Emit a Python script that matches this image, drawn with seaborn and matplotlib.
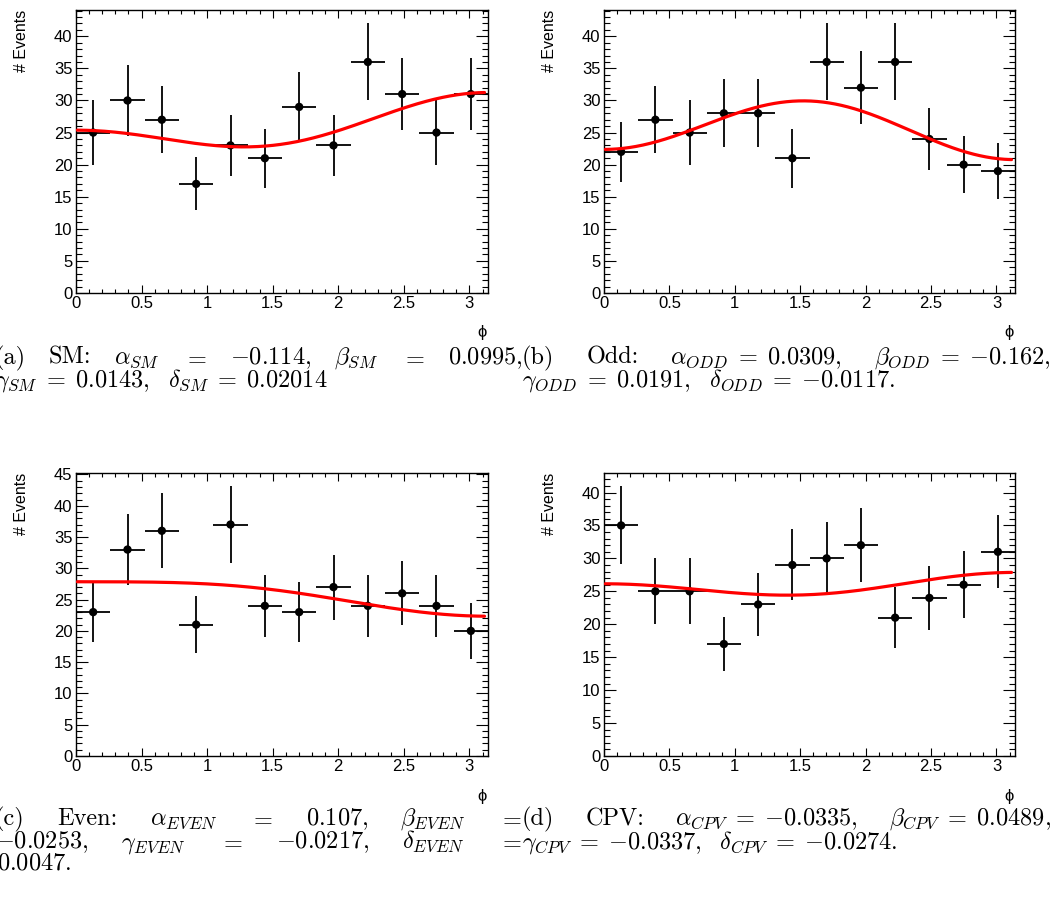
import numpy as np
import pandas as pd
import matplotlib
matplotlib.use("Agg")
import matplotlib.pyplot as plt
from matplotlib.ticker import MultipleLocator, FuncFormatter
import seaborn as sns

# ---------------- data ----------------
n_bins = 12
counts_sm = [25, 30, 27, 17, 23, 21, 29, 23, 36, 31, 25, 31]
counts_odd = [22, 27, 25, 28, 28, 21, 36, 32, 36, 24, 20, 19]
counts_even = [23, 33, 36, 21, 37, 24, 23, 27, 24, 26, 24, 20]
counts_cpv = [35, 25, 25, 17, 23, 29, 30, 32, 21, 24, 26, 31]

panel_keys = ["SM", "ODD", "EVEN", "CPV"]
alpha_vals = [-0.114, 0.0309, 0.107, -0.0335]
beta_vals = [0.0995, -0.162, -0.0253, 0.0489]
gamma_vals = [0.0143, 0.0191, -0.0217, -0.0337]
delta_vals = [0.02014, -0.0117, 0.0047, -0.0274]
fit_norm = [25.75, 25.75, 25.75, 25.75]

# ---------------- style ----------------
sns.set_theme(style="ticks")
plt.rcParams["font.family"] = ["Liberation Sans", "DejaVu Sans"]
plt.rcParams["mathtext.fontset"] = "cm"
plt.rcParams["axes.edgecolor"] = "black"
plt.rcParams["xtick.color"] = "black"
plt.rcParams["ytick.color"] = "black"
plt.rcParams["text.color"] = "black"
plt.rcParams["axes.labelcolor"] = "black"

W, H = 1053, 914
fig = plt.figure(figsize=(W / 100, H / 100), dpi=100)

# axes rectangles in pixels (left, top, right, bottom)
rects = [(76, 10, 488, 293), (604, 10, 1015, 293),
         (76, 473, 488, 756), (604, 473, 1015, 756)]
all_counts = [counts_sm, counts_odd, counts_even, counts_cpv]

edges = np.linspace(0, np.pi, n_bins + 1)
centers = 0.5 * (edges[:-1] + edges[1:])
half_w = 0.5 * (edges[1] - edges[0])

for i, (l, t, r, b) in enumerate(rects):
    ax = fig.add_axes([l / W, 1 - b / H, (r - l) / W, (b - t) / H])
    counts = np.array(all_counts[i], dtype=float)
    err = np.sqrt(counts)
    df = pd.DataFrame({"phi": centers, "n": counts})

    ax.errorbar(centers, counts, yerr=err, xerr=half_w, fmt="none",
                ecolor="black", elinewidth=1.3, capsize=0, zorder=2)
    sns.scatterplot(data=df, x="phi", y="n", ax=ax, color="black", s=36,
                    edgecolor="none", linewidth=0, zorder=3, legend=False)

    phi_c = np.linspace(0.01, 3.115, 400)
    f = fit_norm[i] * (1 + alpha_vals[i] * np.cos(phi_c) + beta_vals[i] * np.cos(2 * phi_c))
    sns.lineplot(x=phi_c, y=f, ax=ax, color="#ff0000", linewidth=2.3, zorder=4,
                 estimator=None, sort=False)

    ymax = np.max(counts + err) * 1.05
    ax.set_xlim(0, np.pi)
    ax.set_ylim(0, ymax)
    ax.xaxis.set_major_locator(MultipleLocator(0.5))
    ax.xaxis.set_minor_locator(MultipleLocator(0.1))
    ax.yaxis.set_major_locator(MultipleLocator(5))
    ax.yaxis.set_minor_locator(MultipleLocator(1))
    fmt = FuncFormatter(lambda v, p: "%g" % v)
    ax.xaxis.set_major_formatter(fmt)
    ax.yaxis.set_major_formatter(fmt)
    ax.tick_params(which="both", direction="in", top=True, right=True,
                   width=0.8, labelsize=12)
    ax.tick_params(axis="x", which="major", length=5.5, pad=2.5)
    ax.tick_params(axis="x", which="minor", length=2.9)
    ax.tick_params(axis="y", which="major", length=8.6, pad=2.5)
    ax.tick_params(axis="y", which="minor", length=4.3)
    for sp in ax.spines.values():
        sp.set_linewidth(1.0)
        sp.set_color("black")
    ax.set_xlabel("")
    ax.set_ylabel("")
    ax.text(-54 / (r - l), 1.0, "# Events", rotation=90, ha="right",
            va="center", rotation_mode="anchor", transform=ax.transAxes, fontsize=11.5)
    ax.text(0.997, -40 / (b - t), "ϕ", ha="right", va="center",
            transform=ax.transAxes, fontsize=12)

# ---------------- captions ----------------
FS = 17.5
renderer = fig.canvas.get_renderer()


def place_line(tokens, x0, x1, y_base, justify=True):
    texts = []
    for tok in tokens:
        if tok.startswith("$"):
            tx = fig.text(0, 1 - y_base / H, tok, fontsize=FS, va="baseline", ha="left")
        else:
            tx = fig.text(0, 1 - y_base / H, tok, fontsize=FS, va="baseline", ha="left",
                          fontfamily="cmr10")
        texts.append(tx)
    widths = [tx.get_window_extent(renderer).width for tx in texts]
    if justify and len(tokens) > 1:
        gap = (x1 - x0 - sum(widths)) / (len(tokens) - 1)
    else:
        gap = 6
    x = x0
    for tx, w in zip(texts, widths):
        tx.set_x(x / W)
        x += w + gap


SPLIT = 522
LX0, LX1 = -5, SPLIT
RX0, RX1 = SPLIT, 1051

place_line(["(a)", "SM:", r"$\alpha_{SM}$", r"$=$",
            r"${-}0.114,$", r"$\beta_{SM}$", r"$=$", r"$0.0995,$"], LX0, LX1, 364)
place_line([r"$\gamma_{SM}\;=\;0.0143,\ \ \delta_{SM}\;=\;0.02014$"], LX0, LX1, 386, False)

place_line(["(b)", "Odd:", r"$\alpha_{ODD}\;=\;0.0309,$",
            r"$\beta_{ODD}\;=\;{-}0.162,$"], RX0, RX1, 364)
place_line([r"$\gamma_{ODD}\;=\;0.0191,\ \ \delta_{ODD}\;=\;{-}0.0117.$"], RX0, RX1, 386, False)

place_line(["(c)", "Even:", r"$\alpha_{EVEN}$", r"$=$",
            r"$0.107,$", r"$\beta_{EVEN}$", r"$=$"], LX0, LX1, 825)
place_line([r"${-}0.0253,$", r"$\gamma_{EVEN}$", r"$=$", r"${-}0.0217,$",
            r"$\delta_{EVEN}$", r"$=$"], LX0, LX1, 848)
place_line([r"$0.0047.$"], -3, LX1, 870, False)

place_line(["(d)", "CPV:", r"$\alpha_{CPV}\;=\;{-}0.0335,$",
            r"$\beta_{CPV}\;=\;0.0489,$"], RX0, RX1, 825)
place_line([r"$\gamma_{CPV}\;=\;{-}0.0337,\ \ \delta_{CPV}\;=\;{-}0.0274.$"], RX0, RX1, 848, False)

fig.savefig("out.png", dpi=100)
